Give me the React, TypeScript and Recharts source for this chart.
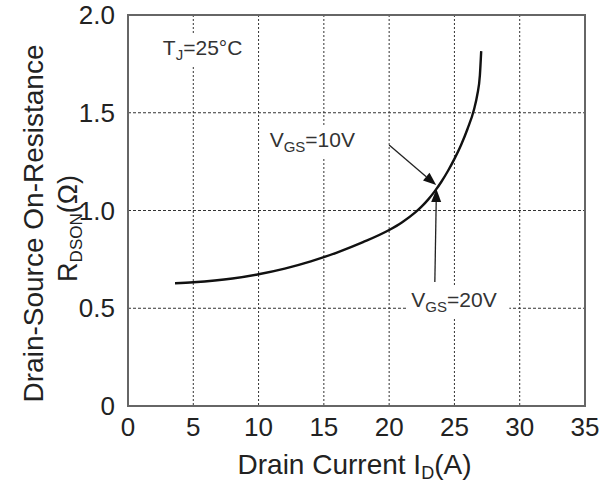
import React from "react";
import {
  LineChart,
  Line,
  XAxis,
  YAxis,
  CartesianGrid,
  ReferenceLine,
  ReferenceDot,
  ReferenceArea,
} from "recharts";

// Drain current (A) vs on-resistance (ohm), Tj = 25C
const drainCurrent = [3.6, 5, 8, 10, 12, 14, 16, 18, 20, 21, 22, 22.5, 23, 23.5, 24, 24.5, 25, 25.5, 26, 26.5, 26.75, 26.95, 27.05];
const rdsOn = [0.628, 0.633, 0.652, 0.674, 0.703, 0.74, 0.785, 0.838, 0.9, 0.94, 0.99, 1.021, 1.057, 1.099, 1.147, 1.202, 1.264, 1.334, 1.417, 1.517, 1.592, 1.692, 1.815];

const xTicks = [0, 5, 10, 15, 20, 25, 30, 35];
const yTicks = [0, 0.5, 1.0, 1.5, 2.0];

const data = drainCurrent.map((x, i) => ({ x, r: rdsOn[i] }));

const FONT = "'Liberation Sans', Arial, sans-serif";
const TEXT = "#222";

const Arrow = (p: any) => {
  const { x1, y1, x2, y2 } = p;
  const a = Math.atan2(y2 - y1, x2 - x1);
  const len = 13;
  const w = 5;
  const bx = x2 - len * Math.cos(a);
  const by = y2 - len * Math.sin(a);
  const nx = -Math.sin(a) * w;
  const ny = Math.cos(a) * w;
  return (
    <g>
      <line x1={x1} y1={y1} x2={bx} y2={by} stroke="#222" strokeWidth={1.3} />
      <polygon points={`${x2},${y2} ${bx + nx},${by + ny} ${bx - nx},${by - ny}`} fill="#111" />
    </g>
  );
};

const makeNote = (main: string, sub: string, rest: string, w: number) => (p: any) => {
  const { cx, cy } = p;
  return (
    <g>
      <rect x={cx - 4} y={cy - 22} width={w} height={32} fill="#fff" />
      <text x={cx} y={cy} fontFamily={FONT} fontSize={21} fill="#333">
        <tspan>{main}</tspan>
        <tspan fontSize={15} dy={5}>{sub}</tspan>
        <tspan dy={-5}>{rest}</tspan>
      </text>
    </g>
  );
};

const YTitle = (props: any) => {
  const vb = props.viewBox || { x: 0, y: 15, width: 128, height: 391 };
  const cy = vb.y + vb.height / 2 + 13;
  return (
    <g fontFamily={FONT} fill={TEXT}>
      <text transform={`translate(43, ${cy}) rotate(-90)`} textAnchor="middle" fontSize={28}>
        Drain-Source On-Resistance
      </text>
      <text transform={`translate(77, ${cy + 5}) rotate(-90)`} textAnchor="middle" fontSize={27}>
        <tspan>R</tspan>
        <tspan fontSize={17} dy={5}>DSON</tspan>
        <tspan dy={-5}>(Ω)</tspan>
      </text>
    </g>
  );
};

const XTitle = (props: any) => {
  const vb = props.viewBox || { x: 128, y: 406, width: 457, height: 79 };
  const cx = vb.x + vb.width / 2 - 2;
  return (
    <text x={cx} y={vb.y + 68} textAnchor="middle" fontFamily={FONT} fontSize={28} fill={TEXT}>
      <tspan>Drain Current I</tspan>
      <tspan fontSize={18} dy={5}>D</tspan>
      <tspan dy={-5}>(A)</tspan>
    </text>
  );
};

export default function App() {
  return (
    <div style={{ position: "absolute", left: 0, top: 0, background: "#fff" }}>
      <LineChart width={602} height={485} data={data} margin={{ top: 15, right: 17, bottom: 0, left: 0 }}>
        <CartesianGrid horizontal={true} vertical={false} stroke="#333" strokeDasharray="3 2" />
        <CartesianGrid horizontal={false} vertical={true} stroke="#333" strokeDasharray="2 2" />
        <XAxis
          type="number"
          dataKey="x"
          domain={[0, 35]}
          ticks={xTicks}
          interval={0}
          height={79}
          axisLine={false}
          tickLine={false}
          tickSize={0}
          tickMargin={12}
          tick={{ fontFamily: FONT, fontSize: 26, fill: TEXT }}
          label={<XTitle />}
        />
        <YAxis
          type="number"
          domain={[0, 2]}
          ticks={yTicks}
          interval={0}
          width={128}
          axisLine={false}
          tickLine={false}
          tickSize={0}
          tickMargin={13}
          tickFormatter={(v: number) => (v === 0 ? "0" : v.toFixed(1))}
          tick={{ fontFamily: FONT, fontSize: 26, fill: TEXT }}
          label={<YTitle />}
        />
        <ReferenceArea x1={0} x2={35} y1={0} y2={2} fill="none" stroke="#666" strokeWidth={2} ifOverflow="visible" />
        <ReferenceDot x={2.67} y={1.795} r={0} shape={makeNote("T", "J", "=25°C", 86)} />
        <ReferenceDot x={10.85} y={1.325} r={0} shape={makeNote("V", "GS", "=10V", 100)} />
        <ReferenceDot x={21.7} y={0.506} r={0} shape={makeNote("V", "GS", "=20V", 102)} />
        <ReferenceLine segment={[{ x: 20.0, y: 1.335 }, { x: 23.6, y: 1.13 }]} shape={(p: any) => <Arrow {...p} />} />
        <ReferenceLine segment={[{ x: 23.5, y: 0.634 }, { x: 23.62, y: 1.11 }]} shape={(p: any) => <Arrow {...p} />} />
        <Line
          type="monotone"
          dataKey="r"
          stroke="#111"
          strokeWidth={2.4}
          dot={false}
          isAnimationActive={false}
        />
      </LineChart>
    </div>
  );
}
